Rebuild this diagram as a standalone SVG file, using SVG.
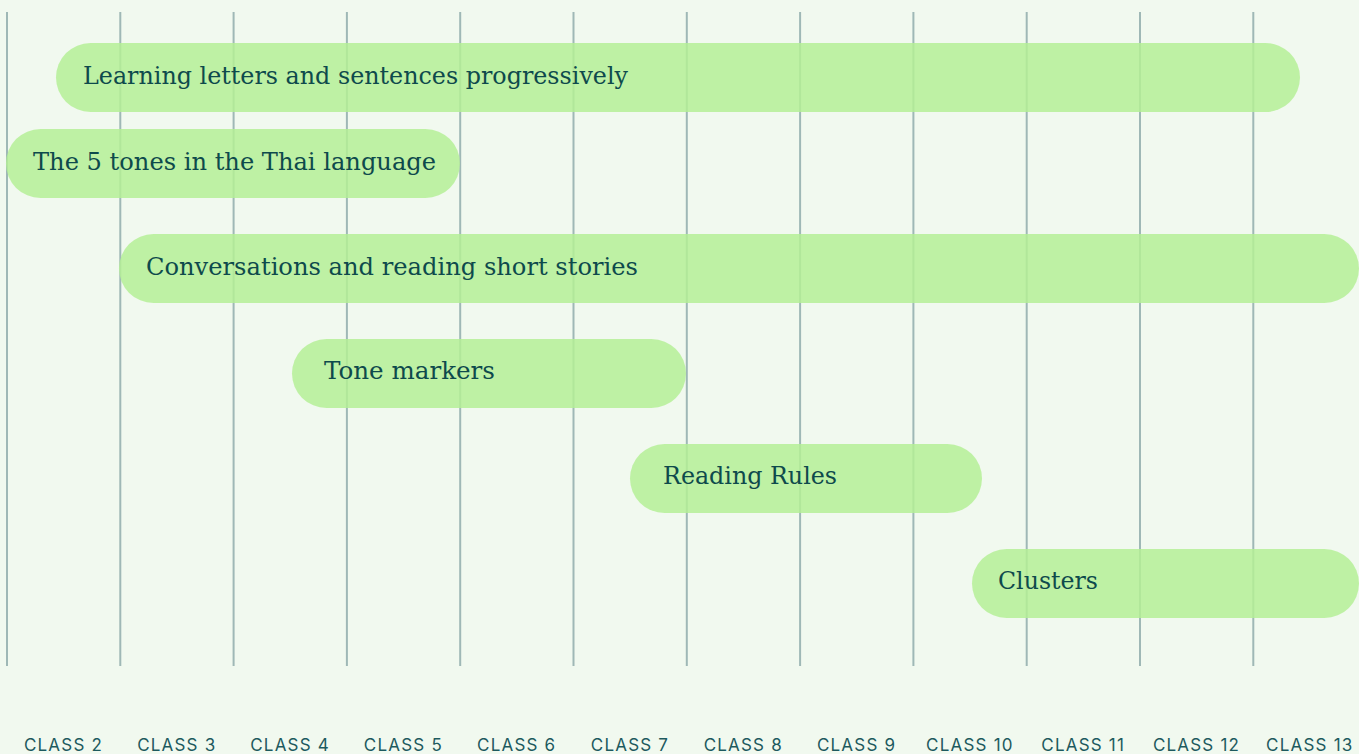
<svg xmlns="http://www.w3.org/2000/svg" width="1359" height="754" viewBox="0 0 1359 754">
<style>
.grid line{stroke:#9fb8b6;stroke-width:2}
.bar{fill:#b4f095;opacity:0.84}
.t{font-family:"DejaVu Serif","Liberation Serif",serif;font-size:24px;fill:#0e4a4c}
.c{font-family:"Inter","Liberation Sans",sans-serif;font-size:17px;fill:#1d5a5e;letter-spacing:1.2px;text-anchor:middle}
</style>
<rect width="1359" height="754" fill="#f1f9ef"/>
<g id="grid" class="grid">
<line x1="7" y1="12" x2="7" y2="666"/>
<line x1="120.3" y1="12" x2="120.3" y2="666"/>
<line x1="233.6" y1="12" x2="233.6" y2="666"/>
<line x1="346.9" y1="12" x2="346.9" y2="666"/>
<line x1="460.2" y1="12" x2="460.2" y2="666"/>
<line x1="573.5" y1="12" x2="573.5" y2="666"/>
<line x1="686.8" y1="12" x2="686.8" y2="666"/>
<line x1="800.1" y1="12" x2="800.1" y2="666"/>
<line x1="913.4" y1="12" x2="913.4" y2="666"/>
<line x1="1026.7" y1="12" x2="1026.7" y2="666"/>
<line x1="1140" y1="12" x2="1140" y2="666"/>
<line x1="1253.3" y1="12" x2="1253.3" y2="666"/>
</g>
<g id="bar1"><rect class="bar" x="56" y="43" width="1244" height="69" rx="34.5"/><text class="t" x="83" y="84" textLength="545" lengthAdjust="spacingAndGlyphs">Learning letters and sentences progressively</text></g>
<g id="bar2"><rect class="bar" x="6" y="129" width="454" height="69" rx="34.5"/><text class="t" x="33" y="170" textLength="403" lengthAdjust="spacingAndGlyphs">The 5 tones in the Thai language</text></g>
<g id="bar3"><rect class="bar" x="119" y="234" width="1240" height="69" rx="34.5"/><text class="t" x="146" y="275" textLength="492" lengthAdjust="spacingAndGlyphs">Conversations and reading short stories</text></g>
<g id="bar4"><rect class="bar" x="292" y="339" width="394" height="69" rx="34.5"/><text class="t" x="324" y="379" textLength="171" lengthAdjust="spacingAndGlyphs">Tone markers</text></g>
<g id="bar5"><rect class="bar" x="630" y="444" width="352" height="69" rx="34.5"/><text class="t" x="663" y="484" textLength="174" lengthAdjust="spacingAndGlyphs">Reading Rules</text></g>
<g id="bar6"><rect class="bar" x="972" y="549" width="387" height="69" rx="34.5"/><text class="t" x="998" y="589" textLength="100" lengthAdjust="spacingAndGlyphs">Clusters</text></g>
<g id="labels">
<text class="c" x="63.5" y="751">CLASS 2</text>
<text class="c" x="176.8" y="751">CLASS 3</text>
<text class="c" x="290.1" y="751">CLASS 4</text>
<text class="c" x="403.4" y="751">CLASS 5</text>
<text class="c" x="516.7" y="751">CLASS 6</text>
<text class="c" x="630" y="751">CLASS 7</text>
<text class="c" x="743.3" y="751">CLASS 8</text>
<text class="c" x="856.6" y="751">CLASS 9</text>
<text class="c" x="969.9" y="751">CLASS 10</text>
<text class="c" x="1083.2" y="751">CLASS 11</text>
<text class="c" x="1196.5" y="751">CLASS 12</text>
<text class="c" x="1309.8" y="751">CLASS 13</text>
</g>
</svg>
